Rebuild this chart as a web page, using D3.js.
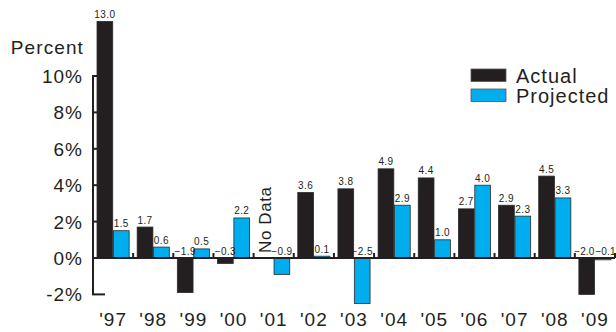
<!DOCTYPE html>
<html>
<head>
<meta charset="utf-8">
<script src="https://cdn.jsdelivr.net/npm/d3@7"></script>
<style>
  html, body { margin: 0; padding: 0; background: #fff; }
  svg { display: block; font-family: "Liberation Sans", Arial, Helvetica, sans-serif; }
</style>
</head>
<body>
<svg id="chart" width="616" height="332"></svg>
<script>
// Annual growth, actual vs projected (percent)
const years = ["'97", "'98", "'99", "'00", "'01", "'02", "'03", "'04", "'05", "'06", "'07", "'08", "'09"];
const actual = [13.0, 1.7, -1.9, -0.3, null, 3.6, 3.8, 4.9, 4.4, 2.7, 2.9, 4.5, -2.0];
const projected = [1.5, 0.6, 0.5, 2.2, -0.9, 0.1, -2.5, 2.9, 1.0, 4.0, 2.3, 3.3, -0.1];
const yTicks = [-2, 0, 2, 4, 6, 8, 10];
const seriesNames = ["Actual", "Projected"];
const noDataLabel = "No Data";

const colors = { Actual: "#231f20", Projected: "#00aeef" };

const svg = d3.select("#chart");

const x = d3.scaleBand().domain(years).range([93, 615]).paddingInner(0.2).paddingOuter(0.1);
const xs = d3.scaleBand().domain(seriesNames).range([0, x.bandwidth()]).paddingInner(0.04);
const y = d3.scaleLinear().domain([-2, 10]).range([294.4, 76]);

const rows = years.map((yr, i) => ({ year: yr, Actual: actual[i], Projected: projected[i] }));

// One entry per drawn bar; when both bars of a year are negative their
// labels sit side by side on the baseline, so they lean away from each other.
const barsOf = d => {
  const both = d.Actual !== null && d.Projected !== null && d.Actual < 0 && d.Projected < 0;
  return seriesNames.filter(s => d[s] !== null).map(s => ({ s, v: d[s], pair: both }));
};

// Bars
const groups = svg.append("g").selectAll("g").data(rows).join("g")
  .attr("transform", d => `translate(${x(d.year)},0)`);

groups.selectAll("rect").data(barsOf)
  .join("rect")
  .attr("x", d => xs(d.s))
  .attr("width", xs.bandwidth())
  .attr("y", d => y(Math.max(0, d.v)))
  .attr("height", d => Math.max(1, Math.abs(y(d.v) - y(0))))
  .attr("fill", d => colors[d.s])
  .attr("stroke", "#2a2a2a")
  .attr("stroke-width", 0.8);

// Value labels
groups.selectAll("text.val").data(barsOf)
  .join("text")
  .attr("class", "val")
  .attr("x", d => d.pair ? x.bandwidth() / 2 + (d.s === "Actual" ? -0.5 : 0.5)
                         : xs(d.s) + xs.bandwidth() / 2)
  .attr("y", d => (d.v >= 0 ? y(d.v) : y(0)) - 3.5)
  .attr("text-anchor", d => d.pair ? (d.s === "Actual" ? "end" : "start") : "middle")
  .attr("font-size", 10)
  .attr("letter-spacing", d => d.pair ? 0.1 : 0.4)
  .attr("fill", "#231f20")
  .text(d => d3.format(".1f")(d.v));

// "No Data" marker for the missing year
rows.forEach(d => {
  if (d.Actual === null) {
    const cx = x(d.year) + xs("Actual") + xs.bandwidth() / 2;
    svg.append("text")
      .attr("transform", `translate(${cx + 6},${y(0) - 5}) rotate(-90)`)
      .attr("font-size", 17)
      .attr("letter-spacing", 0.6)
      .attr("fill", "#231f20")
      .text(noDataLabel);
  }
});

// Baseline with small separators between years
svg.append("line")
  .attr("x1", 93).attr("x2", 615)
  .attr("y1", y(0)).attr("y2", y(0))
  .attr("stroke", "#231f20").attr("stroke-width", 2);

const sepX = years.slice(1).map(yr => x(yr) - x.step() * 0.1)
  .concat([x(years[years.length - 1]) + x.bandwidth() + x.step() * 0.1]);
svg.append("g").selectAll("line").data(sepX).join("line")
  .attr("x1", d => d).attr("x2", d => d)
  .attr("y1", y(0)).attr("y2", y(0) - 5)
  .attr("stroke", "#231f20").attr("stroke-width", 2);

// Y axis
svg.append("line")
  .attr("x1", 93).attr("x2", 93)
  .attr("y1", y(10)).attr("y2", y(-2))
  .attr("stroke", "#231f20").attr("stroke-width", 2);

svg.append("g").selectAll("line").data(yTicks.filter(t => t !== 0)).join("line")
  .attr("x1", 92).attr("x2", d => d === -2 ? 105 : 97)
  .attr("y1", d => y(d)).attr("y2", d => y(d))
  .attr("stroke", "#231f20").attr("stroke-width", 2);

svg.append("g").selectAll("text").data(yTicks).join("text")
  .attr("x", 83)
  .attr("y", d => y(d) + 7)
  .attr("text-anchor", "end")
  .attr("font-size", 19)
  .attr("letter-spacing", 1)
  .attr("fill", "#231f20")
  .text(d => d + "%");

svg.append("text")
  .attr("x", 84).attr("y", 54)
  .attr("text-anchor", "end")
  .attr("font-size", 19)
  .attr("letter-spacing", 1.1)
  .attr("fill", "#231f20")
  .text("Percent");

// X labels
svg.append("g").selectAll("text").data(years).join("text")
  .attr("x", d => x(d) + x.bandwidth() / 2)
  .attr("y", 326)
  .attr("text-anchor", "middle")
  .attr("font-size", 19)
  .attr("letter-spacing", 1)
  .attr("fill", "#231f20")
  .text(d => d);

// Legend
const legend = svg.append("g").selectAll("g").data(seriesNames).join("g")
  .attr("transform", (d, i) => `translate(471,${69 + i * 20})`);
legend.append("rect")
  .attr("width", 35).attr("height", 12.5)
  .attr("fill", d => colors[d])
  .attr("stroke", "#555").attr("stroke-width", 0.8);
legend.append("text")
  .attr("x", 45).attr("y", 13.5)
  .attr("font-size", 20)
  .attr("letter-spacing", 1)
  .attr("fill", "#231f20")
  .text(d => d);
</script>
</body>
</html>
